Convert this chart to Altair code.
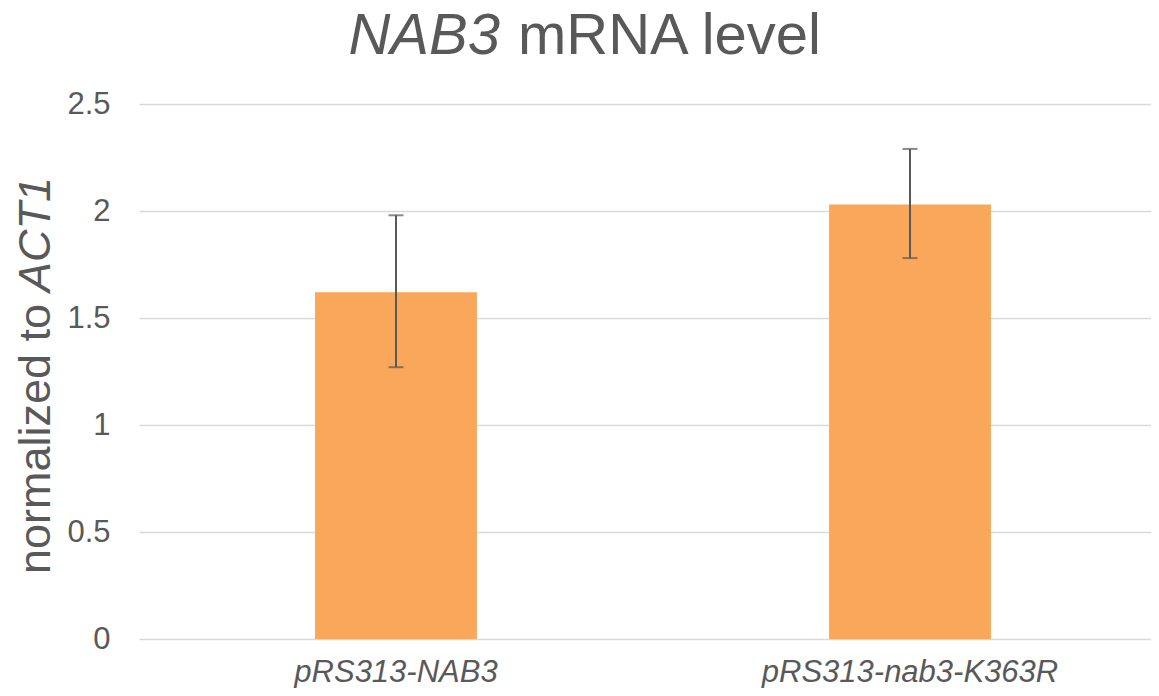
import altair as alt
import pandas as pd

# ---- data ----
categories = ["pRS313-NAB3", "pRS313-nab3-K363R"]
mean_values = [1.62, 2.03]
err_lower = [1.27, 1.78]
err_upper = [1.98, 2.29]
y_ticks = [0, 0.5, 1, 1.5, 2, 2.5]

title_italic = "NAB3"
title_rest = "mRNA level"
ytitle_rest = "normalized to"
ytitle_italic = "ACT1"

df = pd.DataFrame({
    "cat": categories,
    "mean": mean_values,
    "lo": err_lower,
    "hi": err_upper,
})

FONT = "Liberation Sans"
GRAY = "#595959"
BAR = "#F9A85B"

x_scale = alt.Scale(range=[0, 1028], paddingInner=0.685, paddingOuter=0.3425)
x_enc = alt.X(
    "cat:N",
    sort=categories,
    scale=x_scale,
    axis=alt.Axis(
        title=None, labelAngle=0, labelFont=FONT, labelFontSize=31,
        labelFontStyle="italic", labelColor=GRAY, labelPadding=42,
        labelBaseline="alphabetic",
        labelLimit=500, ticks=False, domain=False, grid=False,
    ),
)
y_scale = alt.Scale(domain=[0, 2.5], nice=False)

bars = alt.Chart(df).mark_bar(color=BAR).encode(
    x=x_enc,
    y=alt.Y(
        "mean:Q",
        scale=y_scale,
        axis=alt.Axis(
            title=None, values=y_ticks, labelExpr="datum.value",
            labelFont=FONT, labelFontSize=31, labelColor=GRAY,
            labelPadding=29, ticks=False, domain=False,
            grid=True, gridColor="#D9D9D9", gridWidth=1.6,
        ),
    ),
)

rules = alt.Chart(df).mark_rule(color=GRAY, strokeWidth=2).encode(
    x=alt.X("cat:N", sort=categories, scale=x_scale),
    y=alt.Y("lo:Q", scale=y_scale),
    y2="hi:Q",
)

caps_hi = alt.Chart(df).mark_tick(color=GRAY, thickness=2, size=15).encode(
    x=alt.X("cat:N", sort=categories, scale=x_scale),
    y=alt.Y("hi:Q", scale=y_scale),
)
caps_lo = alt.Chart(df).mark_tick(color=GRAY, thickness=2, size=15).encode(
    x=alt.X("cat:N", sort=categories, scale=x_scale),
    y=alt.Y("lo:Q", scale=y_scale),
)

def text_layer(txt, **kw):
    d = pd.DataFrame({"t": [txt]})
    return alt.Chart(d).mark_text(font=FONT, color=GRAY, **kw)

t1 = text_layer(title_italic, fontSize=58, fontStyle="italic", align="right",
                baseline="alphabetic").encode(
    text="t:N", x=alt.value(361), y=alt.value(-50.5))
t2 = text_layer(title_rest, fontSize=58, align="left",
                baseline="alphabetic").encode(
    text="t:N", x=alt.value(379), y=alt.value(-50.5))

yt1 = text_layer(ytitle_rest, fontSize=45, angle=270, align="left",
                 baseline="alphabetic").encode(
    text="t:N", x=alt.value(-89), y=alt.value(470))
yt2 = text_layer(ytitle_italic, fontSize=45, angle=270, align="right",
                 fontStyle="italic", baseline="alphabetic").encode(
    text="t:N", x=alt.value(-89), y=alt.value(73))

chart = alt.layer(bars, rules, caps_hi, caps_lo, t1, t2, yt1, yt2).properties(
    width=1012,
    height=535,
    padding={"left": 131, "top": 96, "right": 0, "bottom": 49},
    autosize=alt.AutoSizeParams(type="none"),
    background="white",
).configure_view(stroke=None)

chart.save("out.html", embed_options={"renderer": "svg", "actions": False})
